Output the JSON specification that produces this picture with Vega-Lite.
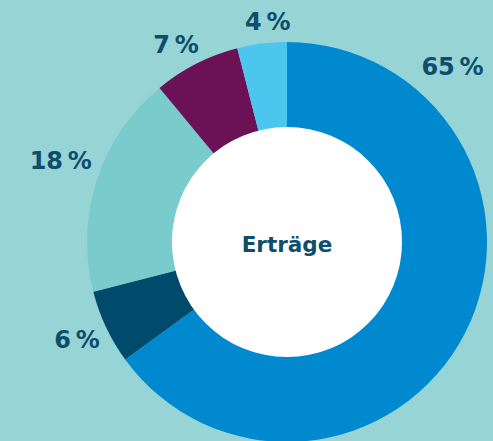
{
  "$schema": "https://vega.github.io/schema/vega-lite/v6.json",
  "autosize": "none",
  "width": 412,
  "height": 398,
  "padding": {"left": 81, "top": 43, "right": 0, "bottom": 0},
  "background": "#96D4D6",
  "config": {
    "view": {"stroke": null},
    "text": {"font": "DejaVu Sans", "fontWeight": "bold", "fontSize": 24, "color": "#0D4E6C", "align": "center", "baseline": "middle"}
  },
  "datasets": {
    "shares": [
      {"i": 1, "label": "65\u2009%", "value": 65},
      {"i": 2, "label": "6\u2009%", "value": 6},
      {"i": 3, "label": "18\u2009%", "value": 18},
      {"i": 4, "label": "7\u2009%", "value": 7},
      {"i": 5, "label": "4\u2009%", "value": 4}
    ],
    "center": [{"title": "Erträge"}]
  },
  "layer": [
    {
      "data": {"name": "shares"},
      "mark": {"type": "arc", "outerRadius": 200, "innerRadius": 0, "strokeWidth": 0},
      "encoding": {
        "theta": {"field": "value", "type": "quantitative", "stack": true},
        "order": {"field": "i", "type": "quantitative"},
        "color": {
          "field": "i",
          "type": "nominal",
          "legend": null,
          "scale": {
            "domain": [1, 2, 3, 4, 5],
            "range": ["#0089CF", "#004A6B", "#79CCCB", "#6B1257", "#4DC6EF"]
          }
        }
      }
    },
    {
      "data": {"name": "shares"},
      "mark": {"type": "text", "radius": 240, "thetaOffset": -1.281},
      "encoding": {
        "theta": {"field": "value", "type": "quantitative", "stack": true},
        "order": {"field": "i", "type": "quantitative"},
        "text": {"condition": {"test": "datum.i != 1", "value": ""}, "field": "label"}
      }
    },
    {
      "data": {"name": "shares"},
      "mark": {"type": "text", "radius": 232, "thetaOffset": 0},
      "encoding": {
        "theta": {"field": "value", "type": "quantitative", "stack": true},
        "order": {"field": "i", "type": "quantitative"},
        "text": {"condition": {"test": "datum.i != 2", "value": ""}, "field": "label"}
      }
    },
    {
      "data": {"name": "shares"},
      "mark": {"type": "text", "radius": 240, "thetaOffset": 0.026},
      "encoding": {
        "theta": {"field": "value", "type": "quantitative", "stack": true},
        "order": {"field": "i", "type": "quantitative"},
        "text": {"condition": {"test": "datum.i != 3", "value": ""}, "field": "label"}
      }
    },
    {
      "data": {"name": "shares"},
      "mark": {"type": "text", "radius": 225, "thetaOffset": -0.044},
      "encoding": {
        "theta": {"field": "value", "type": "quantitative", "stack": true},
        "order": {"field": "i", "type": "quantitative"},
        "text": {"condition": {"test": "datum.i != 4", "value": ""}, "field": "label"}
      }
    },
    {
      "data": {"name": "shares"},
      "mark": {"type": "text", "radius": 220, "thetaOffset": 0.038},
      "encoding": {
        "theta": {"field": "value", "type": "quantitative", "stack": true},
        "order": {"field": "i", "type": "quantitative"},
        "text": {"condition": {"test": "datum.i != 5", "value": ""}, "field": "label"}
      }
    },
    {
      "data": {"name": "center"},
      "mark": {"type": "arc", "outerRadius": 115, "innerRadius": 0, "color": "#FFFFFF", "strokeWidth": 0},
      "encoding": {}
    },
    {
      "data": {"name": "center"},
      "mark": {"type": "text", "fontSize": 21.5, "dy": 4},
      "encoding": {"text": {"field": "title"}}
    }
  ]
}
